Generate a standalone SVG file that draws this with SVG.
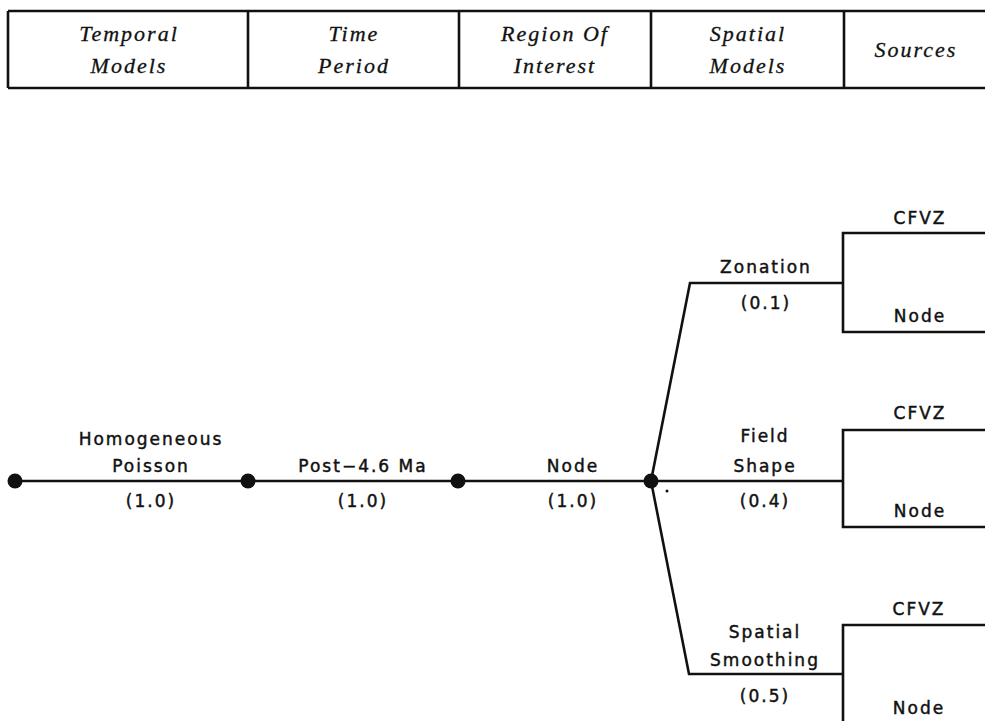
<svg xmlns="http://www.w3.org/2000/svg" width="985" height="721" viewBox="0 0 985 721">
<style>
.hdr{font-family:"Liberation Serif","DejaVu Serif",serif;font-style:italic;font-size:22px;letter-spacing:2px;text-anchor:middle;fill:#111;stroke:#111;stroke-width:0.3}
.lbl{font-family:"DejaVu Sans","Liberation Sans",sans-serif;font-size:17px;letter-spacing:2px;text-anchor:middle;fill:#111;stroke:#111;stroke-width:0.45}
.ln{stroke:#111;stroke-width:2.6;fill:none;stroke-linejoin:miter}
.dot{fill:#111}
</style>
<rect width="985" height="721" fill="#fff"/>
<g id="header">
<path class="ln" d="M8,11 H990 M8,88 H990 M8,11 V88 M248,11 V88 M459,11 V88 M651,11 V88 M844,11 V88"/>
<text class="hdr" x="129" y="41">Temporal</text>
<text class="hdr" x="129" y="73">Models</text>
<text class="hdr" x="354" y="41">Time</text>
<text class="hdr" x="354" y="73">Period</text>
<text class="hdr" x="555" y="41">Region Of</text>
<text class="hdr" x="555" y="73">Interest</text>
<text class="hdr" x="748" y="41">Spatial</text>
<text class="hdr" x="748" y="73">Models</text>
<text class="hdr" x="916" y="57">Sources</text>
</g>
<g id="connectors">
<path class="ln" d="M14,481 H651"/>
<path class="ln" d="M651,481 L690,283 H843"/>
<path class="ln" d="M651,481 H843"/>
<path class="ln" d="M651,481 L689,674 H843"/>
<path class="ln" d="M985,233 H843 V332 H985"/>
<path class="ln" d="M985,430 H843 V527 H985"/>
<path class="ln" d="M985,625 H843 V725"/>
</g>
<g id="n-start"><circle class="dot" cx="15" cy="481" r="7.5"/></g>
<g id="n-temporal">
<circle class="dot" cx="248" cy="481" r="7.5"/>
<text class="lbl" x="151" y="445">Homogeneous</text>
<text class="lbl" x="151" y="472">Poisson</text>
<text class="lbl" x="151" y="507">(1.0)</text>
</g>
<g id="n-time">
<circle class="dot" cx="458" cy="481" r="7.5"/>
<text class="lbl" x="363" y="472">Post−4.6 Ma</text>
<text class="lbl" x="363" y="507">(1.0)</text>
</g>
<g id="n-region">
<circle class="dot" cx="651" cy="481" r="7.5"/>
<text class="lbl" x="573" y="472">Node</text>
<text class="lbl" x="573" y="507">(1.0)</text>
<circle class="dot" cx="667" cy="491" r="1.5"/>
</g>
<g id="n-zonation">
<text class="lbl" x="766" y="273">Zonation</text>
<text class="lbl" x="766" y="309">(0.1)</text>
<text class="lbl" x="920" y="224">CFVZ</text>
<text class="lbl" x="920" y="322">Node</text>
</g>
<g id="n-field">
<text class="lbl" x="765" y="442">Field</text>
<text class="lbl" x="765" y="472">Shape</text>
<text class="lbl" x="765" y="507">(0.4)</text>
<text class="lbl" x="920" y="419">CFVZ</text>
<text class="lbl" x="920" y="517">Node</text>
</g>
<g id="n-smoothing">
<text class="lbl" x="765" y="638">Spatial</text>
<text class="lbl" x="765" y="666">Smoothing</text>
<text class="lbl" x="765" y="702">(0.5)</text>
<text class="lbl" x="919" y="615">CFVZ</text>
<text class="lbl" x="919" y="714">Node</text>
</g>
</svg>
